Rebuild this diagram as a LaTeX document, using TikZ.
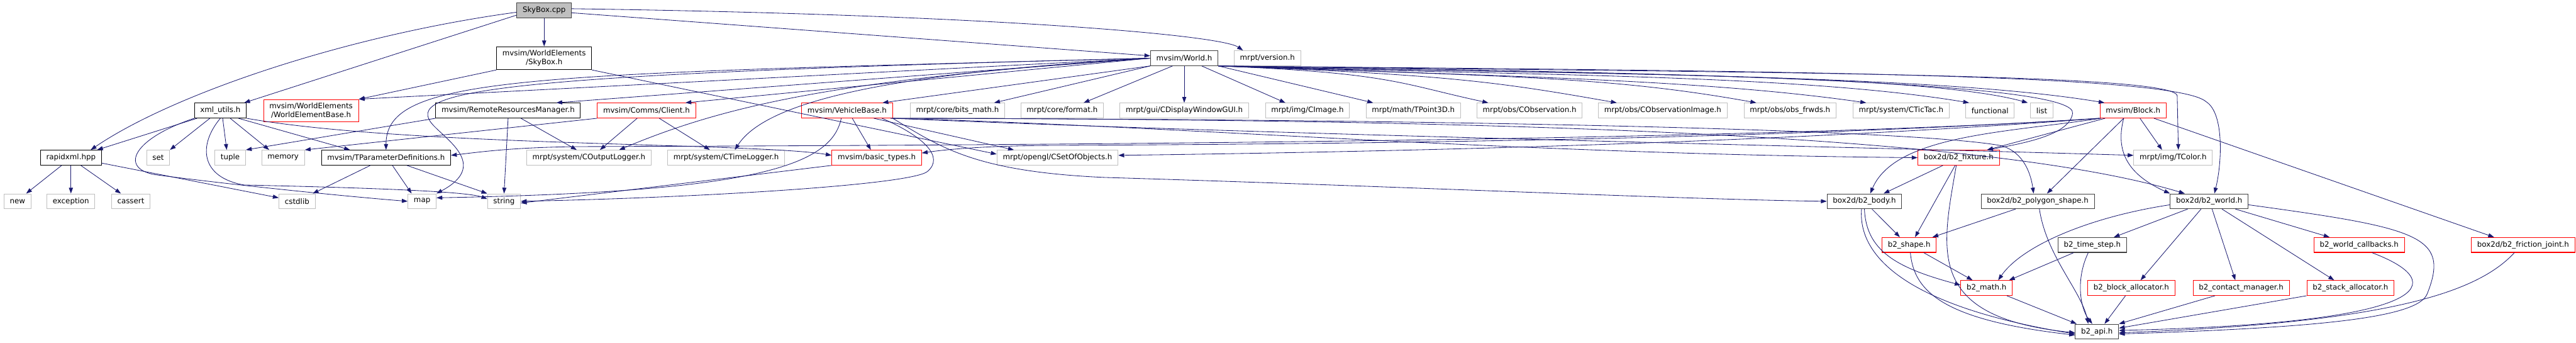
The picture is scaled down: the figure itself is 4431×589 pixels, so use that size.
\documentclass[tikz,border=0pt]{standalone}
\usepackage{fontspec}
\setmainfont{DejaVu Sans}
\usetikzlibrary{arrows.meta}

\definecolor{edgeblue}{HTML}{191970}
\definecolor{sysgray}{HTML}{BFBFBF}
\definecolor{darkline}{HTML}{404040}

\tikzset{
  hdr/.style={draw=black, line width=1.1pt, fill=white, inner xsep=10pt, inner ysep=0pt,
    minimum height=25.6pt, align=center, font=\fontsize{12.8pt}{15pt}\selectfont},
  hdrdark/.style={hdr, draw=darkline},
  hdrsys/.style={hdr, draw=sysgray},
  hdrtrunc/.style={hdr, draw=red},
  hdrroot/.style={hdr, draw=darkline, fill=sysgray},
  twoline/.style={inner ysep=6pt},
  inc/.style={draw=edgeblue, line width=0.9pt, -{Triangle[length=10pt,width=7pt]}},
}

\begin{document}
\begin{tikzpicture}[x=1pt,y=1pt]
\useasboundingbox (0,0) rectangle (4431,-589);

% top levels
\node[hdrroot] (sky) at (936,-18) {SkyBox.cpp};
\node[hdr, twoline] (skyh) at (936,-100) {mvsim/WorldElements\\/SkyBox.h};
\node[hdrdark] (world) at (2037,-100) {mvsim/World.h};
\node[hdrsys] (version) at (2180,-100) {mrpt/version.h};

% level 2
\node[hdr] (xmlu) at (379,-190) {xml\_utils.h};
\node[hdrtrunc, twoline] (web) at (535,-190) {mvsim/WorldElements\\/WorldElementBase.h};
\node[hdr] (rrm) at (874,-190) {mvsim/RemoteResourcesManager.h};
\node[hdrtrunc] (client) at (1112,-190) {mvsim/Comms/Client.h};
\node[hdrtrunc] (vbase) at (1457,-190) {mvsim/VehicleBase.h};
\node[hdrsys] (bitsmath) at (1647,-190) {mrpt/core/bits\_math.h};
\node[hdrsys] (format) at (1827,-190) {mrpt/core/format.h};
\node[hdrsys] (cdisp) at (2037,-190) {mrpt/gui/CDisplayWindowGUI.h};
\node[hdrsys] (cimage) at (2249,-190) {mrpt/img/CImage.h};
\node[hdrsys] (tpoint) at (2431,-190) {mrpt/math/TPoint3D.h};
\node[hdrsys] (cobs) at (2631,-190) {mrpt/obs/CObservation.h};
\node[hdrsys] (cobsimg) at (2860,-190) {mrpt/obs/CObservationImage.h};
\node[hdrsys] (obsfrwds) at (3079,-190) {mrpt/obs/obs\_frwds.h};
\node[hdrsys] (tictac) at (3270,-190) {mrpt/system/CTicTac.h};
\node[hdrsys] (functional) at (3423,-190) {functional};
\node[hdrsys] (list) at (3512,-190) {list};
\node[hdrtrunc] (block) at (3669,-190) {mvsim/Block.h};

% level 3
\node[hdr] (rapidxml) at (122,-271) {rapidxml.hpp};
\node[hdrsys] (set) at (272,-271) {set};
\node[hdrsys] (tuple) at (396,-271) {tuple};
\node[hdrsys] (memory) at (487,-271) {memory};
\node[hdr] (tparam) at (664,-271) {mvsim/TParameterDefinitions.h};
\node[hdrsys] (outlog) at (1013,-271) {mrpt/system/COutputLogger.h};
\node[hdrsys] (timelog) at (1249,-271) {mrpt/system/CTimeLogger.h};
\node[hdrtrunc] (basictypes) at (1508,-271) {mvsim/basic\_types.h};
\node[hdrsys] (setobj) at (1819,-271) {mrpt/opengl/CSetOfObjects.h};
\node[hdrtrunc] (fixture) at (3369,-271) {box2d/b2\_fixture.h};
\node[hdrsys] (tcolor) at (3738,-271) {mrpt/img/TColor.h};

% level 4
\node[hdrsys] (new) at (30,-346) {new};
\node[hdrsys] (exception) at (122,-346) {exception};
\node[hdrsys] (cassert) at (225,-346) {cassert};
\node[hdrsys] (cstdlib) at (511,-346) {cstdlib};
\node[hdrsys] (map) at (726,-346) {map};
\node[hdrsys] (string) at (867,-346) {string};
\node[hdrdark] (body) at (3207,-346) {box2d/b2\_body.h};
\node[hdrdark] (polyshape) at (3505,-346) {box2d/b2\_polygon\_shape.h};
\node[hdrdark] (bworld) at (3800,-346) {box2d/b2\_world.h};

% level 5-7
\node[hdrtrunc] (shape) at (3284,-421) {b2\_shape.h};
\node[hdrdark] (timestep) at (3599,-421) {b2\_time\_step.h};
\node[hdrtrunc] (callbacks) at (4058,-421) {b2\_world\_callbacks.h};
\node[hdrtrunc] (friction) at (4340,-421) {box2d/b2\_friction\_joint.h};
\node[hdrtrunc] (bmath) at (3417,-495) {b2\_math.h};
\node[hdrtrunc] (blockalloc) at (3666,-495) {b2\_block\_allocator.h};
\node[hdrtrunc] (contact) at (3855,-495) {b2\_contact\_manager.h};
\node[hdrtrunc] (stackalloc) at (4043,-495) {b2\_stack\_allocator.h};
\node[hdrdark] (api) at (3607,-570) {b2\_api.h};

% SkyBox.cpp
\draw[inc] ([yshift=-3pt]sky.west) .. controls (600,-60) and (300,-160) .. ([xshift=34pt]rapidxml.north);
\draw[inc] ([yshift=-8pt]sky.west) -- ([xshift=41pt]xmlu.north);
\draw[inc] (sky) -- (skyh);
\draw[inc] ([yshift=-4pt]sky.east) -- ([yshift=4pt]world.west);
\draw[inc] ([yshift=3pt]sky.east) .. controls (1700,-25) and (2100,-60) .. ([xshift=-42pt]version.north);

% SkyBox.h
\draw[inc] (skyh.south west) -- (web.north east);
\draw[inc] (skyh.south east) -- ([yshift=6pt]setobj.west);

% World.h, left side
\draw[inc] (world.west) -- (web.north east);
\draw[inc] (world.west) .. controls (900,-128) and (664,-130) .. (tparam.north);
\draw[inc] (world.west) .. controls (850,-128) and (690,-155) .. (745,-215) .. controls (770,-242) and (840,-285) .. (map.north east);
\draw[inc] (world.west) -- ([xshift=83pt]rrm.north);
\draw[inc] (world.west) -- ([xshift=67pt]client.north);
\draw[inc] (world.west) .. controls (1450,-135) and (1250,-180) .. ([xshift=52pt]outlog.north);
\draw[inc] (world.west) .. controls (1550,-125) and (1320,-170) .. ([xshift=15pt]timelog.north);
\draw[inc] (world.south west) -- ([xshift=61pt]vbase.north);
\draw[inc] (world.south west) -- ([xshift=63pt]bitsmath.north);
\draw[inc] ([xshift=-20pt]world.south) -- ([xshift=37pt]format.north);
\draw[inc] (world.south) -- (cdisp.north);

% World.h, right side
\draw[inc] ([xshift=30pt]world.south) -- ([xshift=-38pt]cimage.north);
\draw[inc] (world.south east) -- ([xshift=-69pt]tpoint.north);
\draw[inc] (world.south east) .. controls +(300,-12) and +(-150,32) .. ([xshift=-71pt]cobs.north);
\draw[inc] (world.south east) .. controls +(400,-15) and +(-200,35) .. ([xshift=-79pt]cobsimg.north);
\draw[inc] (world.south east) .. controls +(500,-18) and +(-250,45) .. ([xshift=-58pt]obsfrwds.north);
\draw[inc] (world.south east) .. controls +(500,-18) and +(-280,40) .. ([xshift=-60pt]tictac.north);
\draw[inc] (world.south east) .. controls +(500,-16) and +(-300,50) .. ([xshift=-36pt]functional.north);
\draw[inc] (world.south east) .. controls +(500,-14) and +(-200,55) .. ([xshift=-24pt]list.north);
\draw[inc] (world.south east) .. controls +(600,-14) and +(-300,50) .. ([xshift=-49pt]block.north);
\draw[inc] (world.south east) .. controls (3000,-125) and (3745,-125) .. (3745,-165) -- ([xshift=9pt]tcolor.north);
\draw[inc] (world.south east) .. controls (3000,-122) and (3740,-125) .. (3795,-175) .. controls (3826,-195) and (3822,-280) .. ([xshift=9pt]bworld.north);
\draw[inc] (world.south east) .. controls (3000,-125) and (3575,-145) .. (3565,-195) .. controls (3560,-230) and (3490,-245) .. ([xshift=49pt]fixture.north);

% xml_utils.h
\draw[inc] ([xshift=-40pt]xmlu.south) -- ([xshift=45pt]rapidxml.north);
\draw[inc] ([xshift=-45pt]xmlu.south) .. controls (230,-238) and (205,-288) .. (265,-300) .. controls (400,-318) and (600,-338) .. (map.west);
\draw[inc] ([xshift=-18pt]xmlu.south) -- (set.north east);
\draw[inc] (xmlu.south) .. controls (340,-250) and (345,-305) .. (420,-318) .. controls (600,-322) and (800,-328) .. ([yshift=4pt]string.west);
\draw[inc] ([xshift=4pt]xmlu.south) -- ([xshift=-6pt]tuple.north);
\draw[inc] ([xshift=17pt]xmlu.south) -- ([xshift=-24pt]memory.north);
\draw[inc] ([xshift=31pt]xmlu.south) -- ([xshift=-62pt]tparam.north);
\draw[inc] (xmlu.south east) .. controls (700,-252) and (1300,-245) .. ([yshift=4pt]basictypes.west);

% rapidxml.hpp
\draw[inc] ([xshift=-16pt]rapidxml.south) -- ([xshift=15pt]new.north);
\draw[inc] (rapidxml.south) -- (exception.north);
\draw[inc] ([xshift=17pt]rapidxml.south) -- ([xshift=-17pt]cassert.north);
\draw[inc] ([yshift=4pt]rapidxml.south east) -- ([yshift=6pt]cstdlib.west);

% TParameterDefinitions.h
\draw[inc] ([xshift=-27pt]tparam.south) -- ([xshift=27pt]cstdlib.north);
\draw[inc] ([xshift=11pt]tparam.south) -- ([xshift=-18pt]map.north);
\draw[inc] ([xshift=36pt]tparam.south) -- (string.north west);

% RemoteResourcesManager.h and Comms/Client.h
\draw[inc] (rrm.south west) -- (tuple.north east);
\draw[inc] ([xshift=22pt]rrm.south) -- ([xshift=-21pt]outlog.north);
\draw[inc] (rrm.south) -- (string.north);
\draw[inc] (client.south west) -- (memory.north east);
\draw[inc] ([xshift=-16pt]client.south) -- ([xshift=19pt]outlog.north);
\draw[inc] ([xshift=22pt]client.south) -- ([xshift=-28pt]timelog.north);

% VehicleBase.h
\draw[inc] ([xshift=9pt]vbase.south) -- ([xshift=-10pt]basictypes.north);
\draw[inc] ([xshift=46pt]vbase.south) -- ([xshift=-75pt]setobj.north);
\draw[inc] ([xshift=60pt]vbase.south) .. controls (1590,-235) and (1625,-270) .. (1595,-295) .. controls (1565,-318) and (1200,-340) .. (string.east);
\draw[inc] ([xshift=-10pt]vbase.south) .. controls (1430,-285) and (1300,-330) .. ([yshift=6pt]map.east);
\draw[inc] (vbase.south east) .. controls (1620,-255) and (1680,-295) .. (1900,-305) .. controls (2400,-320) and (2900,-343) .. (body.west);
\draw[inc] ([xshift=75pt]vbase.south) .. controls (2000,-215) and (2600,-265) .. (fixture.west);
\draw[inc] ([xshift=78pt]vbase.south) .. controls (2200,-232) and (3100,-250) .. ([yshift=4pt]tcolor.west);
\draw[inc] ([xshift=75pt]vbase.south) .. controls (2600,-205) and (3300,-225) .. (3440,-250) .. controls (3475,-258) and (3492,-290) .. ([xshift=-7pt]polyshape.north);
\draw[inc] ([xshift=78pt]vbase.south) .. controls (2500,-205) and (3400,-225) .. ([xshift=-42pt]bworld.north);
\draw[inc] (basictypes.south west) -- ([yshift=-3pt]string.east);

% Block.h
\draw[inc] (block.south west) .. controls (3000,-245) and (1600,-250) .. (1000,-252) .. controls (880,-253) and (820,-262) .. ([yshift=4pt]tparam.east);
\draw[inc] (block.south west) .. controls (3000,-243) and (2200,-248) .. (1800,-250) .. controls (1680,-251) and (1620,-258) .. ([yshift=8pt]basictypes.east);
\draw[inc] (block.south west) .. controls (3000,-250) and (2300,-262) .. ([yshift=4pt]setobj.east);
\draw[inc] ([xshift=-48pt]block.south) -- ([xshift=49pt]fixture.north);
\draw[inc] ([xshift=-55pt]block.south) .. controls (3450,-228) and (3260,-232) .. ([xshift=10pt]body.north);
\draw[inc] ([xshift=-16pt]block.south) -- ([xshift=16pt]polyshape.north);
\draw[inc] ([xshift=12pt]block.south) -- ([xshift=-19pt]tcolor.north);
\draw[inc] ([xshift=-16pt]block.south) .. controls (3638,-260) and (3660,-300) .. (bworld.north west);
\draw[inc] ([xshift=36pt]block.south) -- ([xshift=-50pt]friction.north);

% box2d
\draw[inc] ([xshift=-27pt]fixture.south) -- ([xshift=33pt]body.north);
\draw[inc] ([xshift=-6pt]fixture.south) -- ([xshift=10pt]shape.north);
\draw[inc] ([xshift=-4pt]fixture.south) .. controls (3340,-430) and (3310,-545) .. ([yshift=-2pt]api.west);
\draw[inc] ([xshift=13pt]body.south) -- ([xshift=-16pt]shape.north);
\draw[inc] (body.south) .. controls (3210,-430) and (3260,-460) .. ([yshift=5pt]bmath.west);
\draw[inc] ([xshift=-5pt]body.south) .. controls (3195,-450) and (3300,-530) .. ([yshift=-4pt]api.west);
\draw[inc] ([xshift=-38pt]polyshape.south) -- ([xshift=40pt]shape.north);
\draw[inc] ([xshift=3pt]polyshape.south) .. controls (3520,-440) and (3580,-500) .. ([xshift=-15pt]api.north);
\draw[inc] ([xshift=25pt]shape.south) -- ([xshift=-24pt]bmath.north);
\draw[inc] ([xshift=2pt]shape.south) .. controls (3292,-500) and (3340,-550) .. ([yshift=-6pt]api.west);
\draw[inc] ([xshift=-32pt]timestep.south) -- ([xshift=-6pt]bmath.north east);
\draw[inc] ([xshift=-7pt]timestep.south) .. controls (3570,-480) and (3578,-530) .. ([xshift=-8pt]api.north);
\draw[inc] ([yshift=-6pt]bworld.west) .. controls (3600,-372) and (3480,-420) .. ([xshift=20pt]bmath.north);
\draw[inc] ([xshift=-37pt]bworld.south) -- ([xshift=37pt]timestep.north);
\draw[inc] ([xshift=-14pt]bworld.south) -- ([xshift=16pt]blockalloc.north);
\draw[inc] ([xshift=5pt]bworld.south) -- ([xshift=-10pt]contact.north);
\draw[inc] ([xshift=22pt]bworld.south) -- ([xshift=-28pt]stackalloc.north);
\draw[inc] ([xshift=45pt]bworld.south) -- ([xshift=-51pt]callbacks.north);
\draw[inc] ([yshift=-6pt]bworld.east) .. controls (4160,-392) and (4215,-405) .. (4175,-505) .. controls (4160,-545) and (4000,-563) .. ([yshift=-4pt]api.east);
\draw[inc] ([xshift=22pt]callbacks.south) .. controls (4215,-485) and (4195,-555) .. ([yshift=2pt]api.east);
\draw[inc] ([xshift=-15pt]friction.south) .. controls (4260,-505) and (4100,-555) .. ([yshift=-2pt]api.east);
\draw[inc] ([xshift=35pt]bmath.south) -- ([xshift=-35pt]api.north);
\draw[inc] ([xshift=-10pt]blockalloc.south) -- ([xshift=13pt]api.north);
\draw[inc] ([xshift=-45pt]contact.south) -- (api.north east);
\draw[inc] (stackalloc.south west) -- ([yshift=6pt]api.east);
\end{tikzpicture}
\end{document}
